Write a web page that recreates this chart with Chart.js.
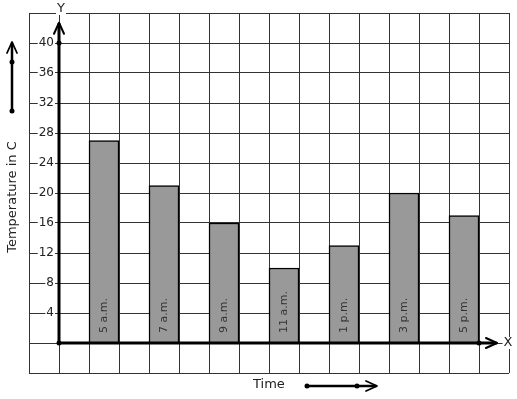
<!DOCTYPE html>
<html>
<head>
<meta charset="utf-8">
<script src="https://cdn.jsdelivr.net/npm/chart.js@4"></script>
<style>
  html, body { margin: 0; padding: 0; background: #fff; }
  #wrap { width: 517px; height: 399px; position: relative; }
</style>
</head>
<body>
<div id="wrap"><canvas id="chart"></canvas></div>
<script>
const times = ['5 a.m.', '7 a.m.', '9 a.m.', '11 a.m.', '1 p.m.', '3 p.m.', '5 p.m.'];
const temps = [27, 21, 16, 10, 13, 20, 17];
const yTicks = [4, 8, 12, 16, 20, 24, 28, 32, 36, 40];
const yTitle = 'Temperature in C';
const xTitle = 'Time';

const FONT = '"DejaVu Sans", sans-serif';

// each time slot takes two grid cells, bar sits in the second one
const barPoints = times.map((t, i) => ({ x: 2 * i + 1.5, y: temps[i] }));

function textWithBg(ctx, text, x, y, align) {
  ctx.textAlign = align;
  ctx.textBaseline = 'middle';
  const w = ctx.measureText(text).width;
  let left = x;
  if (align === 'right') left = x - w;
  if (align === 'center') left = x - w / 2;
  ctx.fillStyle = '#fff';
  ctx.fillRect(left - 1, y - 6, w + 2, 12);
  ctx.fillStyle = '#222';
  ctx.fillText(text, x, y);
}

function arrowHead(ctx, tx, ty, dir) {
  // dir: 'up' or 'right'
  ctx.beginPath();
  if (dir === 'up') {
    ctx.moveTo(tx - 5, ty + 11); ctx.lineTo(tx, ty); ctx.lineTo(tx + 5, ty + 11);
  } else {
    ctx.moveTo(tx - 11, ty - 5); ctx.lineTo(tx, ty); ctx.lineTo(tx - 11, ty + 5);
  }
  ctx.stroke();
}

function dot(ctx, x, y) {
  ctx.beginPath();
  ctx.arc(x, y, 2.5, 0, Math.PI * 2);
  ctx.fillStyle = '#000';
  ctx.fill();
}

const axesPlugin = {
  id: 'axesPlugin',
  afterDatasetsDraw(chart) {
    const ctx = chart.ctx;
    const xs = chart.scales.x, ys = chart.scales.y;
    const x0 = xs.getPixelForValue(0), y0 = ys.getPixelForValue(0);
    const yTop = ys.getPixelForValue(42.7);
    const xEnd = xs.getPixelForValue(14.6);
    ctx.save();
    ctx.strokeStyle = '#000';
    ctx.lineCap = 'round';
    ctx.lineJoin = 'round';

    // axes
    ctx.lineWidth = 3;
    ctx.beginPath();
    ctx.moveTo(x0, y0); ctx.lineTo(x0, yTop + 1);
    ctx.moveTo(x0, y0); ctx.lineTo(xEnd - 1, y0);
    ctx.stroke();
    ctx.lineWidth = 2;
    arrowHead(ctx, x0, yTop, 'up');
    arrowHead(ctx, xEnd, y0, 'right');
    dot(ctx, x0, y0);
    dot(ctx, x0, ys.getPixelForValue(40));
    dot(ctx, xs.getPixelForValue(14), y0);

    // y tick labels
    ctx.font = '12px ' + FONT;
    yTicks.forEach(v => textWithBg(ctx, String(v), x0 - 5, ys.getPixelForValue(v), 'right'));

    // axis letters
    ctx.font = '13px ' + FONT;
    textWithBg(ctx, 'Y', x0 + 2, 9, 'center');
    textWithBg(ctx, 'X', xEnd + 11, y0, 'center');

    // bar labels, rotated
    ctx.font = '11px ' + FONT;
    ctx.fillStyle = '#333';
    barPoints.forEach((p, i) => {
      ctx.save();
      ctx.translate(xs.getPixelForValue(p.x), y0 - 10);
      ctx.rotate(-Math.PI / 2);
      ctx.textAlign = 'left';
      ctx.textBaseline = 'middle';
      ctx.fillText(times[i], 0, 0);
      ctx.restore();
    });

    // titles
    ctx.font = '13px ' + FONT;
    ctx.fillStyle = '#222';
    ctx.save();
    ctx.translate(13, 197);
    ctx.rotate(-Math.PI / 2);
    ctx.textAlign = 'center';
    ctx.textBaseline = 'middle';
    ctx.fillText(yTitle, 0, 0);
    ctx.restore();
    ctx.textAlign = 'left';
    ctx.textBaseline = 'middle';
    ctx.fillText(xTitle, 253, 385);

    // decorative direction arrows
    ctx.lineWidth = 2.5;
    ctx.beginPath();
    ctx.moveTo(12, 111); ctx.lineTo(12, 43);
    ctx.moveTo(307, 386); ctx.lineTo(376, 386);
    ctx.stroke();
    ctx.lineWidth = 1.8;
    arrowHead(ctx, 12, 42, 'up');
    arrowHead(ctx, 377, 386, 'right');
    dot(ctx, 12, 111); dot(ctx, 12, 62);
    dot(ctx, 307, 386); dot(ctx, 357, 386);
    ctx.restore();
  }
};

new Chart(document.getElementById('chart'), {
  type: 'bar',
  data: {
    datasets: [{
      data: barPoints,
      backgroundColor: '#999999',
      borderColor: '#000',
      borderWidth: 1.5,
      barPercentage: 1,
      categoryPercentage: 1
    }]
  },
  options: {
    responsive: true,
    maintainAspectRatio: false,
    animation: false,
    layout: { padding: { left: 29, top: 13, right: 8, bottom: 26 } },
    plugins: { legend: { display: false }, tooltip: { enabled: false } },
    scales: {
      x: {
        type: 'linear',
        offset: false,
        min: -1, max: 15,
        ticks: { stepSize: 1, display: false },
        grid: { color: '#333', lineWidth: 1, drawTicks: false, offset: false },
        border: { display: false }
      },
      y: {
        min: -4, max: 44,
        ticks: { stepSize: 4, display: false },
        grid: { color: '#333', lineWidth: 1, drawTicks: false },
        border: { display: false }
      }
    }
  },
  plugins: [axesPlugin]
});
</script>
</body>
</html>
